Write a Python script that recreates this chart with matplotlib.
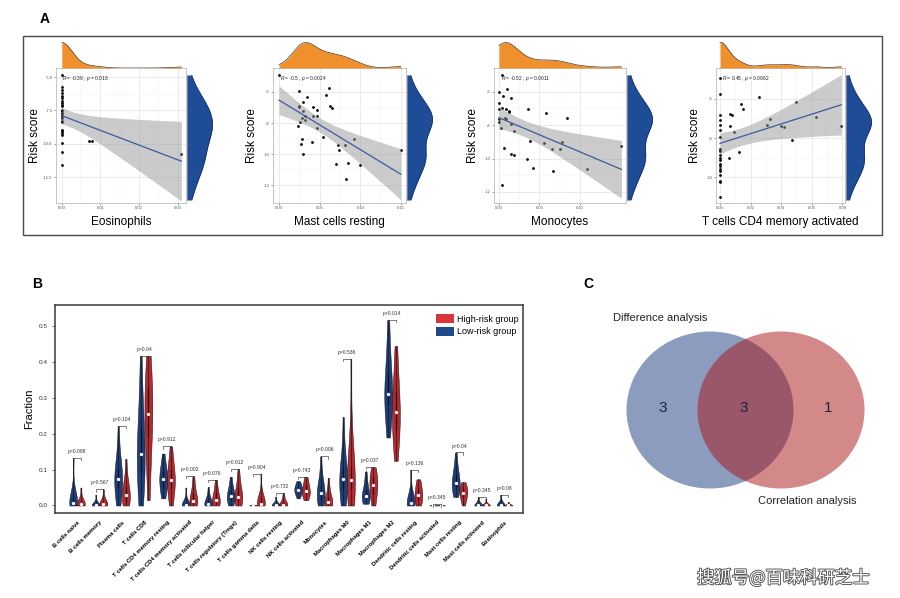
import numpy as np
import matplotlib
matplotlib.use("Agg")
import matplotlib.pyplot as plt
from matplotlib.patches import Ellipse, Rectangle, Patch
import matplotlib.patheffects as pe

plt.rcParams["font.family"] = ["Liberation Sans", "DejaVu Sans"]
plt.rcParams["axes.unicode_minus"] = False
plt.rcParams["mathtext.fontset"] = "custom"
plt.rcParams["mathtext.rm"] = "Liberation Sans"
plt.rcParams["mathtext.it"] = "Liberation Sans:italic"

# ---------------- data: panel A (scatter + marginals) ----------------
eos_x = [0.0] * 25 + [0.007, 0.0078, 0.031]
eos_y = [-4.83, -5.75, -5.95, -6.2, -6.45, -6.58, -6.83, -6.95, -7.08, -7.2,
         -7.45, -7.58, -7.7, -7.83, -7.95, -8.08, -8.28, -8.4, -8.95, -9.08,
         -9.2, -9.33, -9.95, -10.63, -11.58, -9.8, -9.78, -10.8]

mast_x = [0.0, 0.0247, 0.0345, 0.030, 0.0243, 0.0243, 0.0415, 0.0464, 0.030,
          0.032, 0.0288, 0.0415, 0.0464, 0.0316, 0.0263, 0.0238, 0.0469,
          0.0407, 0.0538, 0.028, 0.0267, 0.0296, 0.058, 0.0608, 0.0625,
          0.0654, 0.0727, 0.0732, 0.0814, 0.0925, 0.0703, 0.0847, 0.0826,
          0.0999, 0.1496]
mast_y = [-4.89, -5.91, -6.30, -6.62, -6.88, -6.96, -6.94, -7.16, -7.22,
          -7.52, -7.67, -7.56, -7.56, -7.78, -7.93, -8.16, -8.33, -9.23,
          -8.89, -9.02, -9.34, -9.96, -6.19, -5.74, -6.92, -7.05, -9.40,
          -9.75, -9.40, -9.0, -10.63, -10.58, -11.59, -10.71, -9.75]

mono_x = [0.0042, 0.0, 0.0054, 0.0104, 0.0, 0.0146, 0.0, 0.0033, 0.0083,
          0.0125, 0.0125, 0.0071, 0.0083, 0.0, 0.0, 0.0154, 0.0025, 0.0188,
          0.0354, 0.0583, 0.0842, 0.0063, 0.0154, 0.0188, 0.0383, 0.0346,
          0.0425, 0.0563, 0.0654, 0.0758, 0.0779, 0.0667, 0.1083, 0.1513,
          0.0042]
mono_y = [-4.98, -6.0, -6.28, -5.82, -6.65, -6.35, -7.02, -6.95, -7.02,
          -7.14, -7.20, -7.56, -7.66, -7.62, -7.81, -7.93, -8.19, -8.36,
          -7.02, -7.28, -7.60, -9.39, -9.74, -9.78, -8.92, -10.0, -10.59,
          -9.05, -9.45, -9.45, -9.03, -10.73, -10.65, -9.27, -11.58]

cd4_x = [0.0] * 20 + [0.0065, 0.0078, 0.0063, 0.0092, 0.0135, 0.0148, 0.0126,
                      0.0061, 0.0257, 0.0305, 0.0327, 0.0399, 0.0416, 0.047,
                      0.0499, 0.0627, 0.0793]
cd4_y = [-4.95, -5.78, -6.84, -7.09, -7.32, -7.57, -7.96, -8.58, -8.66, -8.85,
         -9.0, -9.13, -9.30, -9.41, -9.55, -9.68, -9.88, -10.18, -10.25,
         -11.02, -6.79, -6.85, -7.41, -7.69, -6.25, -6.54, -8.69, -9.01,
         -5.9, -7.34, -7.02, -7.41, -7.46, -8.08, -6.17, -6.95, -7.41]

cell_names = ["Eosinophils", "Mast cells resting", "Monocytes",
              "T cells CD4 memory activated"]
cor_r = ["-0.39", "-0.5", "-0.52", "0.45"]
cor_p = ["0.018", "0.0024", "0.0011", "0.0062"]

# ---------------- data: panel B (violins) ----------------
categories = ["B cells naive", "B cells memory", "Plasma cells", "T cells CD8",
              "T cells CD4 memory resting", "T cells CD4 memory activated",
              "T cells follicular helper", "T cells regulatory (Tregs)",
              "T cells gamma delta", "NK cells resting", "NK cells activated",
              "Monocytes", "Macrophages M0", "Macrophages M1", "Macrophages M2",
              "Dendritic cells resting", "Dendritic cells activated",
              "Mast cells resting", "Mast cells activated", "Eosinophils"]
p_values = ["0.088", "0.567", "0.104", "0.04", "0.912", "0.002", "0.076",
            "0.812", "0.904", "0.732", "0.743", "0.006", "0.536", "0.037",
            "0.014", "0.136", "0.345", "0.04", "0.345", "0.08"]

low_risk = [
    [0, 0, 0, 0, 0.002, 0.004, 0.008, 0.01, 0.015, 0.02, 0.03, 0.045, 0.133],
    [0, 0, 0, 0, 0, 0.001, 0.002, 0.003, 0.005, 0.01, 0.03],
    [0, 0.01, 0.03, 0.05, 0.06, 0.07, 0.075, 0.08, 0.09, 0.1, 0.12, 0.15, 0.222],
    [0, 0.03, 0.06, 0.09, 0.11, 0.13, 0.145, 0.16, 0.19, 0.22, 0.26, 0.32, 0.418],
    [0.02, 0.03, 0.045, 0.06, 0.07, 0.075, 0.08, 0.09, 0.1, 0.12, 0.145],
    [0, 0, 0, 0, 0, 0.001, 0.002, 0.003, 0.005, 0.01, 0.02, 0.05],
    [0, 0, 0, 0.002, 0.004, 0.005, 0.008, 0.012, 0.02, 0.03, 0.052],
    [0, 0.005, 0.012, 0.018, 0.024, 0.027, 0.03, 0.035, 0.045, 0.06, 0.08],
    [0, 0, 0, 0, 0, 0, 0.001, 0.002, 0.005],
    [0, 0, 0, 0, 0.001, 0.002, 0.004, 0.008, 0.025],
    [0.02, 0.03, 0.035, 0.04, 0.043, 0.045, 0.05, 0.055, 0.06, 0.068],
    [0, 0.005, 0.01, 0.02, 0.03, 0.035, 0.04, 0.05, 0.06, 0.08, 0.137],
    [0, 0.01, 0.03, 0.05, 0.06, 0.07, 0.077, 0.085, 0.1, 0.12, 0.16, 0.247],
    [0.005, 0.01, 0.015, 0.02, 0.025, 0.027, 0.03, 0.04, 0.05, 0.07, 0.095],
    [0.19, 0.23, 0.26, 0.28, 0.3, 0.31, 0.312, 0.32, 0.34, 0.37, 0.41, 0.46, 0.518],
    [0, 0, 0, 0.002, 0.004, 0.008, 0.01, 0.015, 0.025, 0.04, 0.1],
    [0, 0, 0, 0, 0.001, 0.002],
    [0.024, 0.035, 0.045, 0.052, 0.058, 0.063, 0.07, 0.08, 0.095, 0.11, 0.148],
    [0, 0, 0, 0, 0, 0.001, 0.003, 0.01, 0.024],
    [0, 0, 0, 0, 0, 0.001, 0.003, 0.01, 0.03],
]
high_risk = [
    [0, 0, 0, 0.002, 0.004, 0.005, 0.008, 0.012, 0.02, 0.05],
    [0, 0, 0, 0.002, 0.004, 0.005, 0.008, 0.012, 0.02, 0.045],
    [0, 0, 0.005, 0.01, 0.02, 0.03, 0.03, 0.04, 0.05, 0.06, 0.08, 0.13],
    [0.015, 0.08, 0.14, 0.19, 0.22, 0.24, 0.255, 0.27, 0.3, 0.33, 0.36, 0.4, 0.418],
    [0, 0.02, 0.04, 0.055, 0.065, 0.072, 0.08, 0.09, 0.11, 0.13, 0.165],
    [0, 0, 0.003, 0.008, 0.012, 0.013, 0.02, 0.03, 0.04, 0.06, 0.082],
    [0, 0.002, 0.005, 0.008, 0.012, 0.015, 0.02, 0.03, 0.04, 0.055, 0.072],
    [0, 0.004, 0.01, 0.016, 0.022, 0.025, 0.03, 0.04, 0.055, 0.07, 0.102],
    [0, 0, 0, 0.001, 0.002, 0.005, 0.01, 0.015, 0.025, 0.03, 0.089],
    [0, 0, 0, 0.001, 0.002, 0.004, 0.01, 0.02, 0.035],
    [0.015, 0.025, 0.03, 0.035, 0.038, 0.042, 0.05, 0.06, 0.07, 0.08],
    [0, 0, 0.002, 0.005, 0.008, 0.01, 0.015, 0.02, 0.03, 0.05, 0.077],
    [0, 0.01, 0.03, 0.05, 0.06, 0.07, 0.073, 0.08, 0.1, 0.13, 0.2, 0.41],
    [0, 0.01, 0.025, 0.04, 0.05, 0.058, 0.065, 0.075, 0.085, 0.095, 0.107],
    [0.125, 0.16, 0.19, 0.21, 0.24, 0.255, 0.26, 0.27, 0.29, 0.32, 0.36, 0.4, 0.445],
    [0, 0.005, 0.012, 0.02, 0.026, 0.03, 0.035, 0.045, 0.055, 0.065, 0.073],
    [0, 0, 0, 0, 0.001, 0.003],
    [0, 0.01, 0.02, 0.028, 0.033, 0.036, 0.04, 0.045, 0.052, 0.058, 0.065],
    [0, 0, 0, 0, 0, 0.001, 0.002, 0.005, 0.018],
    [0, 0, 0, 0, 0, 0.001, 0.002, 0.004, 0.01],
]

# ---------------- data: panel C (venn) ----------------
venn_counts = [3, 3, 1]
venn_sets = ["Difference analysis", "Correlation analysis"]

# ---------------- layout ----------------
W, H = 900, 598
BLUE = "#1E3D7B"
RED = "#B8282F"
ORANGE = "#F0902C"
MARG_BLUE = "#1F4C97"


def box(l, t, r, b):
    return [l / W, 1 - b / H, (r - l) / W, (b - t) / H]


def kde(vals, grid):
    v = np.asarray(vals, float)
    n = len(v)
    sd = v.std(ddof=1)
    iqr = np.subtract(*np.percentile(v, [75, 25]))
    lo = min(sd, iqr / 1.34) if iqr > 0 else sd
    bw = 0.9 * lo * n ** (-0.2)
    z = (grid[:, None] - v[None, :]) / bw
    return np.exp(-0.5 * z ** 2).sum(1) / (n * bw * np.sqrt(2 * np.pi))


def lm_band(x, y, xs, t=2.03):
    x = np.asarray(x, float)
    y = np.asarray(y, float)
    n = len(x)
    b, a = np.polyfit(x, y, 1)
    s = np.sqrt(np.sum((y - (a + b * x)) ** 2) / (n - 2))
    sxx = np.sum((x - x.mean()) ** 2)
    se = s * np.sqrt(1 / n + (xs - x.mean()) ** 2 / sxx)
    yh = a + b * xs
    return yh, yh - t * se, yh + t * se


fig = plt.figure(figsize=(W / 100, H / 100), dpi=100)
fig.patch.set_facecolor("white")

# panel A frame
fig.add_artist(Rectangle((22.5 / W, 1 - 235 / H), (882 - 22.5) / W, (235 - 36) / H,
                         transform=fig.transFigure, fill=False,
                         edgecolor="#4a4a4a", linewidth=1.0))
fig.text(40 / W, 1 - 19 / H, "A", fontsize=10, fontweight="bold", va="center")
fig.text(32 / W, 1 - 284 / H, "B", fontsize=10, fontweight="bold", va="center")
fig.text(583 / W, 1 - 284 / H, "C", fontsize=10, fontweight="bold", va="center")

scatter_sets = [(eos_x, eos_y), (mast_x, mast_y), (mono_x, mono_y), (cd4_x, cd4_y)]
panel_lr = [(56, 186), (273, 406), (494, 626), (716, 845)]
xlims = [(-0.0015, 0.0322), (-0.0074, 0.156), (-0.006, 0.157), (-0.0026, 0.0817)]
ylims = [(-14.45, -4.32), (-13.13, -4.46), (-12.66, -4.58), (-11.3, -4.44)]
xticks = [[0, 0.01, 0.02, 0.03], [0, 0.05, 0.10, 0.15], [0, 0.05, 0.10],
          [0, 0.02, 0.04, 0.06, 0.08]]
yticks = [[-5, -7.5, -10, -12.5], [-6, -8, -10, -12], [-6, -8, -10, -12],
          [-6, -8, -10]]
yfmt = ["{:.1f}", "{:.0f}", "{:.0f}", "{:.0f}"]

for k, (xs_, ys_) in enumerate(scatter_sets):
    L, R = panel_lr[k]
    ax = fig.add_axes(box(L, 68, R, 203))
    x = np.asarray(xs_)
    y = np.asarray(ys_)
    ax.scatter(x, y, s=4, color="black", zorder=3, linewidths=0)
    g = np.linspace(x.min(), x.max(), 100)
    yh, lo, hi = lm_band(x, y, g)
    ax.fill_between(g, lo, hi, color="#999999", alpha=0.5, lw=0, zorder=4)
    ax.plot(g, yh, color="#3D5A9E", lw=0.9, zorder=5)
    ax.set_xlim(*xlims[k])
    ax.set_ylim(*ylims[k])
    ax.set_xticks(xticks[k])
    ax.set_xticklabels(["{:.2f}".format(v) for v in xticks[k]])
    ax.set_yticks(yticks[k])
    ax.set_yticklabels([yfmt[k].format(v) for v in yticks[k]])
    mx = np.array(xticks[k])
    ax.set_xticks((mx[:-1] + mx[1:]) / 2, minor=True)
    my = np.array(yticks[k])
    ax.set_yticks((my[:-1] + my[1:]) / 2, minor=True)
    ax.grid(True, which="major", color="#E3E3E3", lw=0.5)
    ax.grid(True, which="minor", color="#F0F0F0", lw=0.35)
    ax.set_axisbelow(True)
    ax.tick_params(labelsize=3, colors="#555555", length=1.5, width=0.4, pad=1)
    ax.tick_params(which="minor", length=0)
    for s in ax.spines.values():
        s.set_color("#BDBDBD")
        s.set_linewidth(0.6)
    ax.set_xlabel(cell_names[k], fontsize=8.5)
    ax.xaxis.set_label_coords(0.5, -13 / 135)
    ax.set_ylabel("Risk score", fontsize=8.5)
    ax.yaxis.set_label_coords(-15 / (R - L), 0.5)
    ax.text(0.05, 0.925, r"$\it{R}$ = " + cor_r[k] + r" , $\it{p}$ = " + cor_p[k],
            transform=ax.transAxes, fontsize=3.5, va="center", ha="left",
            color="#222222")

    # top marginal (x)
    axt = fig.add_axes(box(L, 42, R, 68))
    gx = np.linspace(x.min(), x.max(), 200)
    dx = kde(x, gx)
    axt.fill_between(gx, 0, dx, color=ORANGE, lw=0)
    axt.plot(gx, dx, color="#4a3520", lw=0.5)
    axt.plot([gx[0], gx[-1]], [0, 0], color="#9a9a9a", lw=0.5)
    axt.set_xlim(*xlims[k])
    axt.set_ylim(0, dx.max() * 1.02)
    axt.axis("off")

    # right marginal (y)
    axr = fig.add_axes(box(R + 0.5, 75, R + 27, 200))
    gy = np.linspace(y.min(), y.max(), 200)
    dy = kde(y, gy)
    axr.fill_betweenx(gy, 0, dy, color=MARG_BLUE, lw=0)
    axr.plot(dy, gy, color="#15305e", lw=0.5)
    axr.plot([0, 0], [gy[0], gy[-1]], color="#9a9a9a", lw=0.5)
    axr.set_ylim(gy[0], gy[-1])
    axr.set_xlim(0, dy.max() * 1.02)
    axr.axis("off")

# ---------------- panel B ----------------
axb = fig.add_axes(box(55, 305, 523, 513))
pos = np.arange(len(categories))
off = 0.17
for data, shift, col in [(low_risk, -off, BLUE), (high_risk, off, RED)]:
    parts = axb.violinplot(data, positions=pos + shift, widths=0.35,
                           showextrema=False, points=200, bw_method=0.75)
    for b in parts["bodies"]:
        b.set_facecolor(col)
        b.set_edgecolor("#111111")
        b.set_linewidth(0.35)
        b.set_alpha(1)
    for i, d in enumerate(data):
        q1, med, q3 = np.percentile(d, [25, 50, 75])
        axb.plot([pos[i] + shift] * 2, [min(d), max(d)], color="#111111", lw=0.4)
        axb.plot([pos[i] + shift] * 2, [q1, q3], color="#111111", lw=0.9,
                 solid_capstyle="butt")
        axb.plot(pos[i] + shift, med, marker="o", ms=2.4, color="white", mec="none")

for i in range(len(categories)):
    top = max(max(low_risk[i]), max(high_risk[i]))
    axb.plot([i - off, i - off, i + off, i + off],
             [top - 0.006, top, top, top - 0.006], color="#333333", lw=0.45)
    axb.text(i, top + 0.011, "p=" + p_values[i], ha="center", va="bottom",
             fontsize=3.6, color="#333333")

axb.set_xlim(-0.98, 19.82)
axb.set_ylim(-0.021, 0.56)
axb.set_yticks([0, 0.1, 0.2, 0.3, 0.4, 0.5])
axb.set_yticklabels(["0.0", "0.1", "0.2", "0.3", "0.4", "0.5"])
axb.set_xticks(pos)
axb.set_xticklabels(categories, rotation=45, ha="right", rotation_mode="anchor",
                    fontsize=4.2, fontweight="bold")
axb.tick_params(axis="x", length=0, pad=5)
axb.tick_params(axis="y", labelsize=4.6, colors="#333333", length=2, width=0.5)
for s in axb.spines.values():
    s.set_color("#3a3a3a")
    s.set_linewidth(1.1)
axb.set_ylabel("Fraction", fontsize=8)
axb.yaxis.set_label_coords(-21 / 468, 0.5)
axb.legend(handles=[Patch(facecolor="#D9353D", edgecolor="none", label="High-risk group"),
                    Patch(facecolor="#1F4A8C", edgecolor="none", label="Low-risk group")],
           loc="upper right", bbox_to_anchor=(0.99, 0.955), frameon=False,
           fontsize=6.5, handlelength=1.9, handleheight=1.1, handletextpad=0.35,
           labelspacing=0.35, borderpad=0, borderaxespad=0)

# ---------------- panel C ----------------
axc = fig.add_axes(box(580, 290, 900, 540))
axc.set_xlim(580, 900)
axc.set_ylim(540, 290)
axc.axis("off")
axc.add_patch(Ellipse((710, 410), 167, 157, facecolor=(25 / 255, 59 / 255, 129 / 255),
                      alpha=0.5, edgecolor="none"))
axc.add_patch(Ellipse((781, 410), 167, 157, facecolor=(169 / 255, 19 / 255, 23 / 255),
                      alpha=0.5, edgecolor="none"))
for xc, n in zip([663, 744, 828], venn_counts):
    axc.text(xc, 408, str(n), ha="center", va="center", fontsize=11,
             color="#1e2536")
axc.text(613, 318, venn_sets[0], ha="left", va="center", fontsize=8, color="#222222")
axc.text(758, 501, venn_sets[1], ha="left", va="center", fontsize=8, color="#222222")

# watermark
fig.text(697 / W, 1 - 578 / H, "搜狐号@百味科研芝士", fontsize=12.5, color="white",
         family=["Noto Sans CJK SC", "DejaVu Sans"], va="center", ha="left",
         path_effects=[pe.withStroke(linewidth=1.3, foreground="#505050")])

fig.savefig("out.png", dpi=100, facecolor="white")
